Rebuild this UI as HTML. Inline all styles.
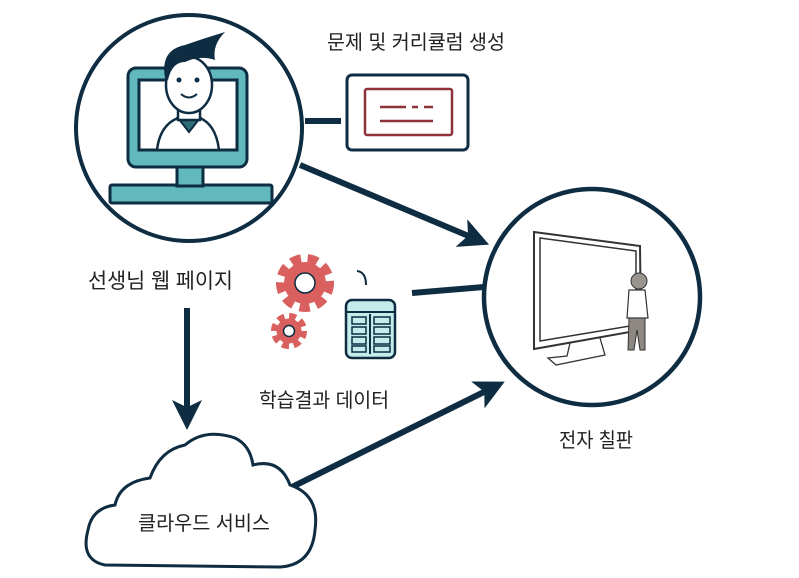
<!DOCTYPE html>
<html><head><meta charset="utf-8"><style>
html,body{margin:0;padding:0;background:#fff;}
svg{display:block;}
text{font-family:"Liberation Sans","Noto Sans CJK KR",sans-serif;fill:#222;}
</style></head><body>
<svg width="799" height="578" viewBox="0 0 799 578" xmlns="http://www.w3.org/2000/svg">
<defs>
<marker id="ah" markerWidth="5" markerHeight="5" refX="3" refY="2.5" orient="auto" markerUnits="strokeWidth">
<path d="M0,0 L5,2.5 L0,5 L1.2,2.5 Z" fill="#0e2c42"/></marker>
</defs>
<!-- connectors -->
<line x1="305" y1="121" x2="341" y2="121" stroke="#0e2c42" stroke-width="6"/>
<line x1="300" y1="165" x2="478" y2="240" stroke="#0e2c42" stroke-width="6" marker-end="url(#ah)"/>
<line x1="412" y1="293" x2="484" y2="287" stroke="#0e2c42" stroke-width="6"/>
<line x1="187" y1="308" x2="187" y2="418" stroke="#0e2c42" stroke-width="6" marker-end="url(#ah)"/>
<line x1="292" y1="487" x2="494" y2="387" stroke="#0e2c42" stroke-width="6" marker-end="url(#ah)"/>

<!-- circle 1 -->
<circle cx="189" cy="128" r="113" fill="#fff" stroke="#0e2c42" stroke-width="4"/>
<rect x="110" y="185" width="162" height="18" rx="2" fill="#62b9bb" stroke="#0e2c42" stroke-width="3"/>
<rect x="177" y="166" width="26" height="20" fill="#62b9bb" stroke="#0e2c42" stroke-width="3"/>
<rect x="128" y="68" width="119" height="99" rx="8" fill="#62b9bb" stroke="#0e2c42" stroke-width="3"/>
<rect x="139" y="80" width="98" height="70" fill="#fff" stroke="#0e2c42" stroke-width="3"/>
<!-- person -->
<path d="M157,150 Q160,125 178,118 L200,118 Q216,125 219,150 Z" fill="#fff" stroke="#0e2c42" stroke-width="2.5"/>
<path d="M178,118 L189,132 L200,118 Z" fill="#2d6e77" stroke="#0e2c42" stroke-width="2"/>
<rect x="178" y="102" width="22" height="18" fill="#fff" stroke="#0e2c42" stroke-width="2.5"/>
<ellipse cx="189" cy="85" rx="23" ry="28" fill="#fff" stroke="#0e2c42" stroke-width="2.5"/>
<path d="M165,78 Q160,50 185,45 Q205,38 225,32 Q212,45 215,60 Q200,55 185,62 Q172,62 168,80 Z" fill="#0e2c42"/>
<circle cx="179" cy="80" r="2.5" fill="#0e2c42"/><circle cx="197" cy="80" r="2.5" fill="#0e2c42"/>
<path d="M181,94 Q189,101 197,94" fill="none" stroke="#0e2c42" stroke-width="2"/>

<!-- doc box -->
<rect x="347" y="75" width="121" height="75" rx="5" fill="#fff" stroke="#0e2c42" stroke-width="3"/>
<rect x="365" y="89" width="87" height="46" rx="2" fill="#fff" stroke="#8b3338" stroke-width="2.5"/>
<line x1="380" y1="107" x2="406" y2="107" stroke="#8b3338" stroke-width="2.5"/>
<line x1="412" y1="107" x2="418" y2="107" stroke="#8b3338" stroke-width="2.5"/>
<line x1="424" y1="107" x2="433" y2="107" stroke="#8b3338" stroke-width="2.5"/>
<line x1="380" y1="121" x2="433" y2="121" stroke="#8b3338" stroke-width="2.5"/>

<!-- gears -->
<circle cx="305" cy="283" r="24" fill="none" stroke="#d9605e" stroke-width="10" stroke-dasharray="10 6.5"/>
<circle cx="305" cy="283" r="21" fill="#d9605e"/>
<circle cx="289" cy="331" r="14" fill="none" stroke="#d9605e" stroke-width="8" stroke-dasharray="6.5 4.5"/>
<circle cx="289" cy="331" r="12.5" fill="#d9605e"/>
<circle cx="305" cy="283" r="10" fill="#fff" stroke="#0e2c42" stroke-width="1.5"/>
<circle cx="289" cy="331" r="5.5" fill="#fff" stroke="#0e2c42" stroke-width="1.5"/>
<path d="M357,271 Q366,272 366,285" fill="none" stroke="#0e2c42" stroke-width="2"/>
<rect x="346" y="300" width="49" height="58" rx="6" fill="#c4ecec" stroke="#0e2c42" stroke-width="2.5"/>
<line x1="346" y1="312" x2="395" y2="312" stroke="#0e2c42" stroke-width="2"/>
<line x1="370" y1="314" x2="370" y2="354" stroke="#0e2c42" stroke-width="2"/>
<g stroke="#0e2c42" stroke-width="1.5" fill="none">
<rect x="352" y="317" width="14" height="7"/><rect x="352" y="327" width="14" height="7"/><rect x="352" y="337" width="14" height="7"/><rect x="352" y="346" width="14" height="6"/>
<rect x="374" y="317" width="16" height="7"/><rect x="374" y="327" width="16" height="7"/><rect x="374" y="337" width="16" height="7"/><rect x="374" y="346" width="16" height="6"/>
</g>

<!-- cloud -->
<path d="M105,565 Q80,560 88,530 Q92,508 115,505 Q120,482 150,478 Q160,450 185,445 Q205,428 235,438 Q250,445 253,465 Q280,458 290,485 Q320,495 315,530 Q312,565 280,567 Z" fill="#fff" stroke="#0e2c42" stroke-width="3"/>

<!-- circle 2 -->
<circle cx="592" cy="297" r="108" fill="#fff" stroke="#0e2c42" stroke-width="4.5"/>
<path d="M534,232 L640,246 L641,330 L534,349 Z" fill="#fff" stroke="#333" stroke-width="2"/>
<path d="M540,238 L636,251 L636,325 L540,341 Z" fill="#fff" stroke="#333" stroke-width="1.5"/>
<path d="M570,343 L567,356 L548,358 L556,365 L605,355 L600,338" fill="none" stroke="#333" stroke-width="1.3"/>
<circle cx="639" cy="281" r="8" fill="#9a948e" stroke="#333" stroke-width="1"/>
<path d="M629,290 L645,290 L648,318 L627,318 Z" fill="#fff" stroke="#333" stroke-width="1.2"/>
<path d="M629,318 L645,318 L645,350 L640,350 L637,330 L634,350 L628,350 Z" fill="#8e8882" stroke="#333" stroke-width="1"/>

<!-- labels -->
<text x="327" y="49" font-size="20" textLength="178" lengthAdjust="spacingAndGlyphs">문제 및 커리큘럼 생성</text>
<text x="88" y="288" font-size="21" textLength="145" lengthAdjust="spacingAndGlyphs">선생님 웹 페이지</text>
<text x="259" y="407" font-size="20" textLength="130" lengthAdjust="spacingAndGlyphs">학습결과 데이터</text>
<text x="559" y="447" font-size="20" textLength="74" lengthAdjust="spacingAndGlyphs">전자 칠판</text>
<text x="138" y="530" font-size="20" textLength="132" lengthAdjust="spacingAndGlyphs">클라우드 서비스</text>
</svg>
</body></html>
